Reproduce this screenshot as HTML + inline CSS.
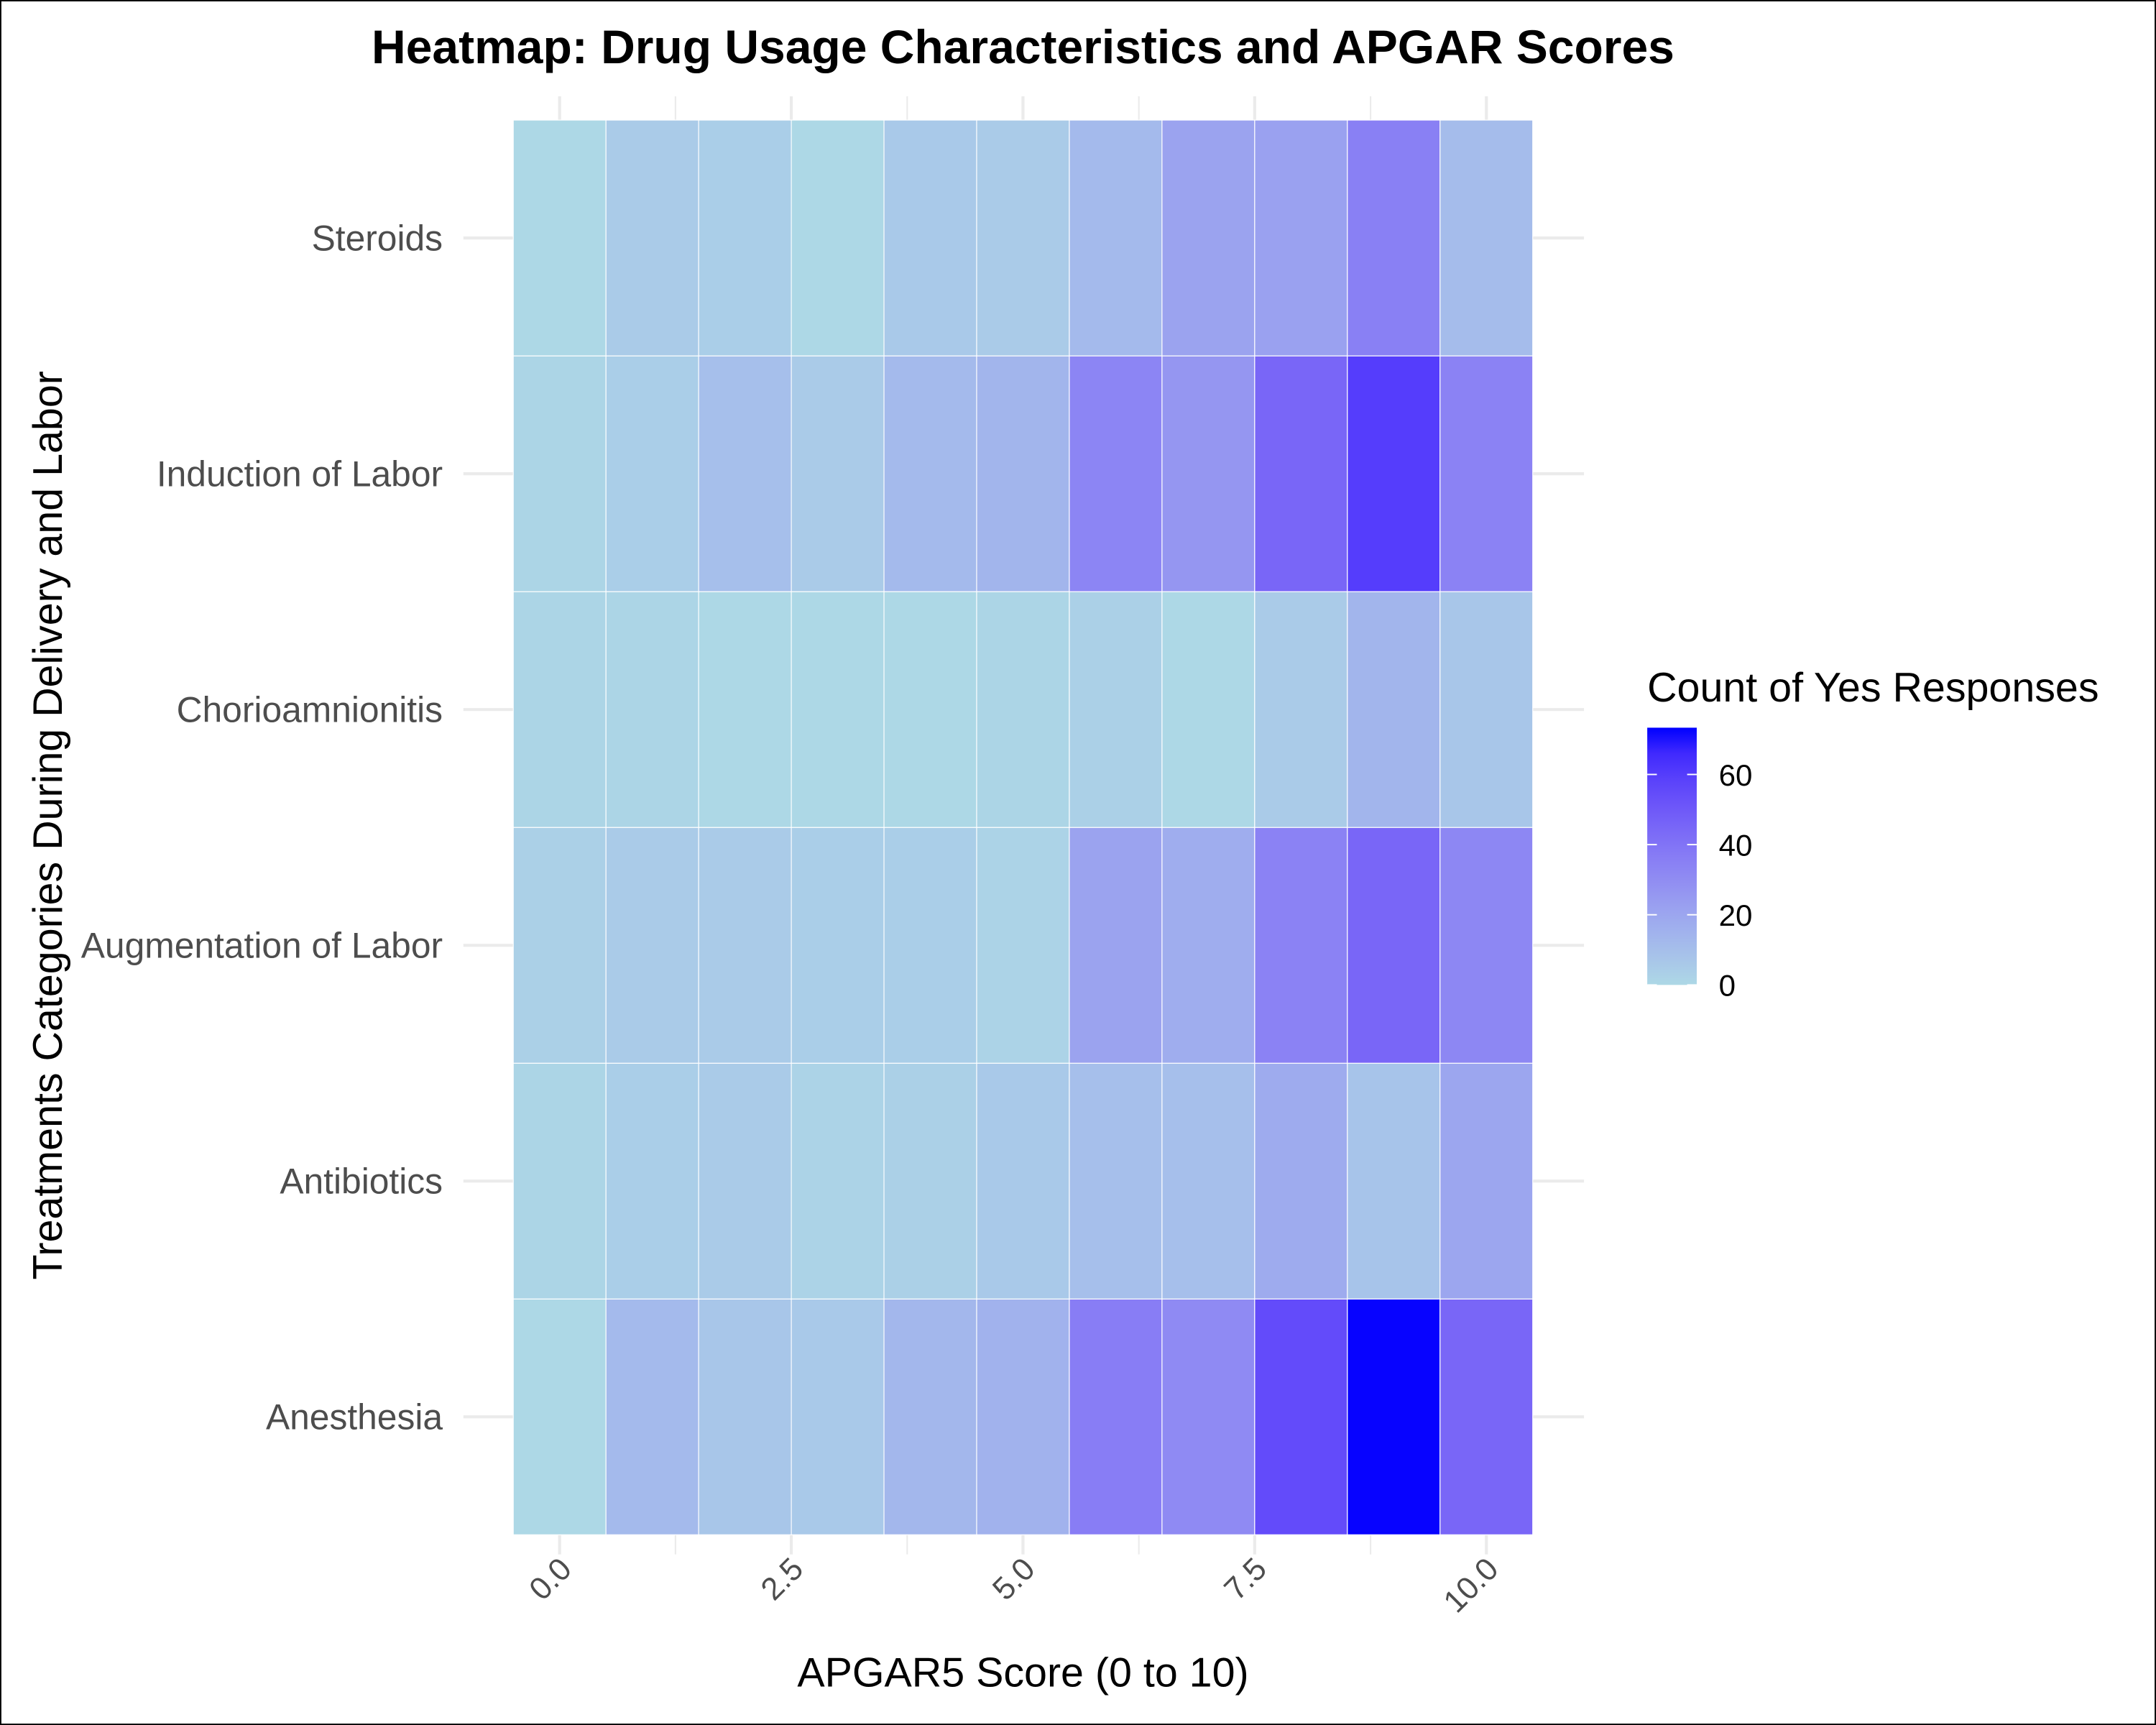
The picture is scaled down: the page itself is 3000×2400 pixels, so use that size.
<!DOCTYPE html>
<html><head><meta charset="utf-8">
<style>html,body{margin:0;padding:0;background:#fff}svg{display:block}text{font-family:"Liberation Sans",Arial,sans-serif}</style>
</head><body>
<svg id="chart" width="3000" height="2400" viewBox="0 0 1568 1254" preserveAspectRatio="none" xmlns="http://www.w3.org/2000/svg">
<rect x="0.5" y="0.5" width="1567" height="1253" fill="#fff" stroke="#000" stroke-width="1"/>
<text x="744" y="46" text-anchor="middle" font-size="34.5" font-weight="bold" fill="#000">Heatmap: Drug Usage Characteristics and APGAR Scores</text>
<g id="grid"></g>
<g id="cells"></g>
<g id="axes"></g>
<text x="744" y="1226" text-anchor="middle" font-size="30" fill="#000">APGAR5 Score (0 to 10)</text>
<text transform="translate(45,600) rotate(-90)" text-anchor="middle" font-size="30" fill="#000">Treatments Categories During Delivery and Labor</text>
<text x="1198" y="510" font-size="30" fill="#000">Count of Yes Responses</text>
<defs><linearGradient id="lg" x1="0" y1="1" x2="0" y2="0"></linearGradient></defs>
<g id="legend"></g>
</svg>
<script>
const categories = ["Anesthesia","Antibiotics","Augmentation of Labor","Chorioamnionitis","Induction of Labor","Steroids"];
const scores = [0,1,2,3,4,5,6,7,8,9,10];
const anesthesia   = [0,12,7,6,13,15,36,31,55,73,45];
const antibiotics  = [1,4,5,2,3,6,10,10,18,8,20];
const augmentation = [3,5,5,4,4,2,21,17,34,45,32];
const chorio       = [1,1,0,0,0,1,3,0,5,14,7];
const induction    = [1,4,10,5,12,14,33,26,45,60,34];
const steroids     = [0,5,4,0,6,5,12,21,22,35,11];
const xTicks = [0,2.5,5,7.5,10];
const xTickLabels = ["0.0","2.5","5.0","7.5","10.0"];
const legendTicks = [0,20,40,60];
const colorMax = 73.3;

const rows = [anesthesia,antibiotics,augmentation,chorio,induction,steroids];
const NS="http://www.w3.org/2000/svg";
function mk(t,a,p){const e=document.createElementNS(NS,t);for(const k in a)e.setAttribute(k,a[k]);p.appendChild(e);return e;}
const xS = v => 407 + v*67.4;
const yS = i => 1030 - i*171.4;
const cw=67.4, ch=171.4;
function toLin(c){c/=255;return c<=0.04045?c/12.92:Math.pow((c+0.055)/1.055,2.4);}
function fromLin(c){c=c<=0.0031308?12.92*c:1.055*Math.pow(c,1/2.4)-0.055;return Math.max(0,Math.min(255,Math.round(c*255)));}
function rgb2lab(r,g,b){r=toLin(r);g=toLin(g);b=toLin(b);
 let X=(r*0.4124+g*0.3576+b*0.1805)/0.95047,Y=(r*0.2126+g*0.7152+b*0.0722),Z=(r*0.0193+g*0.1192+b*0.9505)/1.08883;
 const f=t=>t>0.008856?Math.cbrt(t):7.787*t+16/116;X=f(X);Y=f(Y);Z=f(Z);return [116*Y-16,500*(X-Y),200*(Y-Z)];}
function lab2rgb(L,a,b){let Y=(L+16)/116,X=a/500+Y,Z=Y-b/200;const fi=t=>t*t*t>0.008856?t*t*t:(t-16/116)/7.787;
 X=fi(X)*0.95047;Y=fi(Y);Z=fi(Z)*1.08883;
 const r=X*3.2406+Y*-1.5372+Z*-0.4986,g=X*-0.9689+Y*1.8758+Z*0.0415,bb=X*0.0557+Y*-0.2040+Z*1.0570;
 return `rgb(${fromLin(r)},${fromLin(g)},${fromLin(bb)})`;}
const lo=rgb2lab(173,216,230), hi=rgb2lab(0,0,255);
function col(v){const t=Math.max(0,Math.min(1,v/colorMax));return lab2rgb(lo[0]+(hi[0]-lo[0])*t,lo[1]+(hi[1]-lo[1])*t,lo[2]+(hi[2]-lo[2])*t);}

const grid=document.getElementById('grid');
for(let v=0;v<=10;v+=1.25){const major=(v%2.5===0);
 const l=mk('line',{x1:xS(v),x2:xS(v),y1:70,y2:1130,stroke:'#ebebeb','stroke-width':major?2.2:1.1},grid);
 }
categories.forEach((c,i)=>{const l=mk('line',{x1:337,x2:1152,y1:yS(i),y2:yS(i),stroke:'#ebebeb','stroke-width':2.2},grid);
 });

const cells=document.getElementById('cells');
rows.forEach((r,i)=>r.forEach((v,j)=>{
 const e=mk('rect',{x:xS(scores[j])-cw/2,y:yS(i)-ch/2,width:cw,height:ch,fill:col(v),stroke:'#fff','stroke-width':0.6},cells);
 }));

const axes=document.getElementById('axes');
categories.forEach((c,i)=>{const t=mk('text',{x:322,y:yS(i)+9,'text-anchor':'end','font-size':26,fill:'#4d4d4d'},axes);
 t.textContent=c;});
xTicks.forEach((v,i)=>{const x=xS(v)+10,y=1142;
 const t=mk('text',{x:x,y:y,'text-anchor':'end','font-size':23,fill:'#4d4d4d',transform:`rotate(-45 ${x} ${y})`},axes);
 t.textContent=xTickLabels[i];});

const lg=document.getElementById('lg');
for(let k=0;k<=10;k++){mk('stop',{offset:k/10,'stop-color':col(colorMax*k/10)},lg);}
const legend=document.getElementById('legend');
const lb=mk('rect',{x:1198,y:529,width:36,height:187,fill:'url(#lg)'},legend);

const ly=v=>716-v*2.55;
legendTicks.forEach(v=>{
 mk('line',{x1:1198,x2:1205,y1:ly(v),y2:ly(v),stroke:'#fff','stroke-width':1},legend);
 mk('line',{x1:1227,x2:1234,y1:ly(v),y2:ly(v),stroke:'#fff','stroke-width':1},legend);
 const t=mk('text',{x:1250,y:ly(v)+8,'font-size':22,fill:'#000'},legend);
 t.textContent=v;});
</script>
</body></html>
